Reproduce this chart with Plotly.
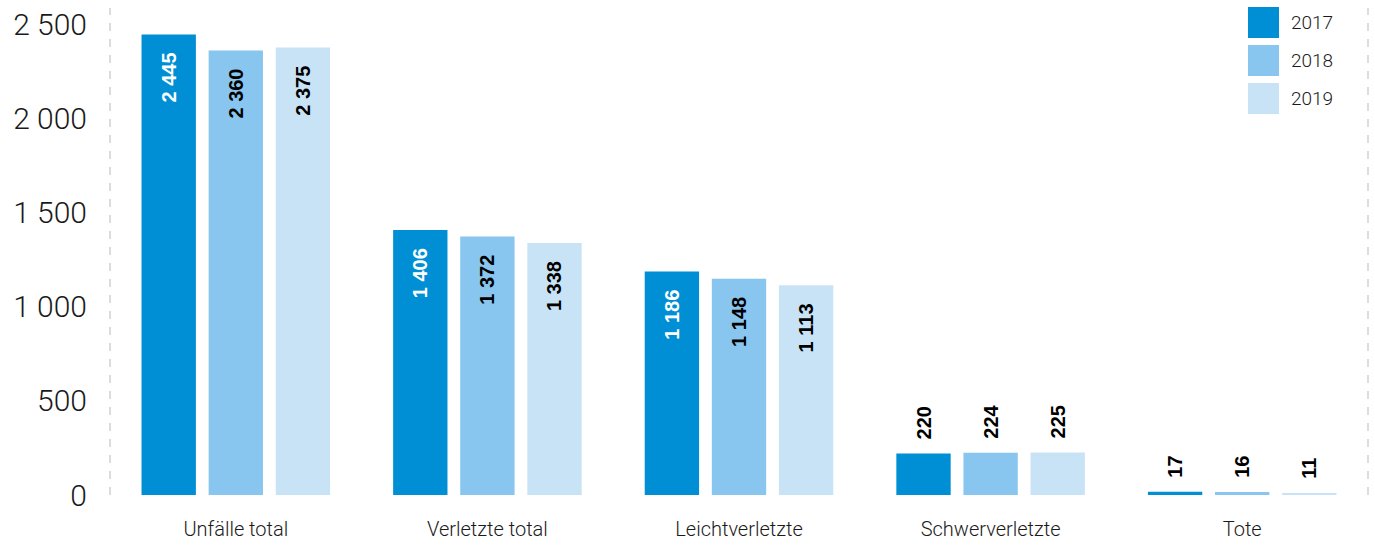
import plotly.graph_objects as go

# Daten
kategorien = ['Unfälle total', 'Verletzte total', 'Leichtverletzte', 'Schwerverletzte', 'Tote']
jahre = ['2017', '2018', '2019']
werte_2017 = [2445, 1406, 1186, 220, 17]
werte_2018 = [2360, 1372, 1148, 224, 16]
werte_2019 = [2375, 1338, 1113, 225, 11]

farben = ['#008fd5', '#89c6ef', '#c9e3f6']
textfarben = ['white', 'black', 'black']

# Plotbereich in Pixeln (Fenster 1375x546)
W, H = 1375, 546
L, R, T, B = 110, 7, 8, 51
plot_w = W - L - R
plot_h = H - T - B


def px_x(px):
    return (px - L) / plot_w


def px_y(py):
    return (H - B - py) / plot_h


fig = go.Figure()

for jahr, werte, farbe, tf in zip(jahre, [werte_2017, werte_2018, werte_2019], farben, textfarben):
    texte = []
    positionen = []
    for v in werte:
        s = f'{v:,}'.replace(',', ' ')
        if v > 800:
            texte.append(s + '\u00a0\u00a0\u2009')
            positionen.append('inside')
        else:
            texte.append('\u00a0\u00a0' + s)
            positionen.append('outside')
    fig.add_trace(go.Bar(
        x=kategorien,
        y=werte,
        name=jahr,
        marker=dict(color=farbe, line=dict(width=0)),
        text=texte,
        textposition=positionen,
        textangle=-90,
        constraintext='none',
        insidetextanchor='end',
        insidetextfont=dict(family='Liberation Sans', size=20, color=tf, weight='bold'),
        outsidetextfont=dict(family='Liberation Sans', size=20, color='black', weight='bold'),
        cliponaxis=False,
        showlegend=False,
    ))

fig.update_layout(
    width=W, height=H,
    margin=dict(l=L, r=R, t=T, b=B, pad=0),
    paper_bgcolor='white',
    plot_bgcolor='white',
    barmode='group',
    bargap=0.2,
    bargroupgap=0.19,
    font=dict(family='Roboto', color='#1a1a1a'),
    xaxis=dict(
        automargin=False,
        showgrid=False, zeroline=False, showline=False,
        ticks='', tickfont=dict(family='Roboto', size=20, color='#1a1a1a', weight=300),
        ticklabelstandoff=20,
    ),
    yaxis=dict(
        automargin=False,
        range=[0, 2585],
        tickvals=[0, 500, 1000, 1500, 2000, 2500],
        ticktext=['0', '500', '1 000', '1 500', '2 000', '2 500'],
        showgrid=False, zeroline=False, showline=False, ticks='',
        tickfont=dict(family='Roboto', size=30, color='#1a1a1a', weight=300),
        ticklabelstandoff=22,
    ),
)

# gestrichelte Rahmenlinien links und rechts
for xp in [0, 1]:
    fig.add_shape(type='line', xref='paper', yref='paper',
                  x0=xp, x1=xp, y0=0, y1=1,
                  line=dict(color='#dcdcdc', width=2, dash='8px,8px'))

# Legende (eigene Quadrate)
for i, (jahr, farbe) in enumerate(zip(jahre, farben)):
    top = 7 + i * 38
    fig.add_shape(type='rect', xref='paper', yref='paper',
                  x0=px_x(1248), x1=px_x(1279), y0=px_y(top + 31), y1=px_y(top),
                  fillcolor=farbe, line=dict(width=0))
    fig.add_annotation(text=jahr, xref='paper', yref='paper',
                       x=px_x(1289), y=px_y(top + 15.5), xanchor='left', yanchor='middle',
                       showarrow=False,
                       font=dict(family='Roboto', size=19, color='#1a1a1a', weight=300))

fig.write_html(
    'out.html', config={'displayModeBar': False},
    post_script="document.body.style.margin='0';"
                "document.body.style.overflow='hidden';"
                "document.documentElement.style.overflow='hidden';"
)
